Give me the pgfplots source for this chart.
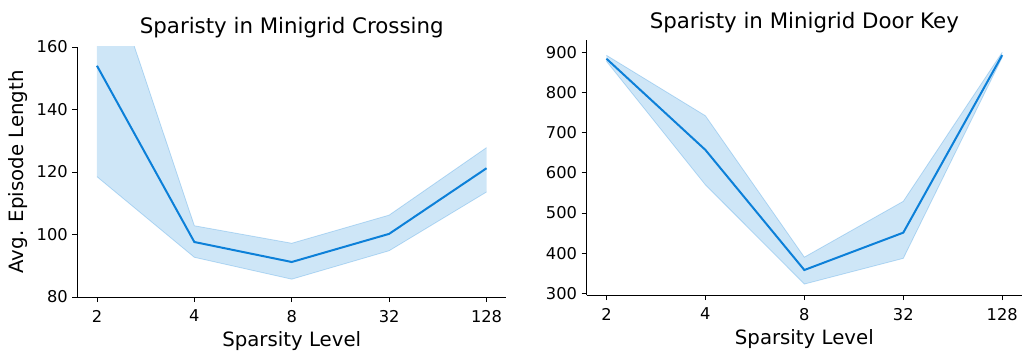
\documentclass[border=0pt]{standalone}
\usepackage{pgfplots}
\pgfplotsset{compat=1.18}
\usepgfplotslibrary{fillbetween}
\usepackage{fontspec}
\setmainfont{DejaVu Sans}
\definecolor{lc}{RGB}{12,128,216}

\pgfplotstableread{
x mean lo hi
0 154.0 118.5 196.0
1 97.6 92.7 102.8
2 91.2 85.7 97.2
3 100.2 94.8 106.2
4 121.2 113.6 127.8
}\crossing

\pgfplotstableread{
x mean lo hi
0 884 877.6 892.5
1 657 570 742
2 358 323 390
3 451 387 529
4 893 887.5 900
}\doorkey

\pgfplotsset{
  mystyle/.style={
    scale only axis,
    anchor=south west,
    axis x line*=bottom,
    axis y line*=left,
    axis line style={-, line width=0.6pt},
    tick align=outside,
    major tick length=3.75pt,
    tick style={black, line width=0.6pt},
    xmin=-0.2, xmax=4.2,
    xtick={0,1,2,3,4},
    xticklabels={2,4,8,32,128},
    tick label style={font=\fontsize{12.2}{14}\selectfont},
    xticklabel style={yshift=-2.5pt},
    /pgf/number format/assume math mode=true,
    label style={font=\fontsize{14.8}{17}\selectfont},
    title style={font=\fontsize{16}{19}\selectfont, anchor=base, at={(0.5,1)}},
    xlabel={Sparsity Level},
  }
}

\begin{document}
\begin{tikzpicture}

\begin{axis}[mystyle,
  at={(58.1pt,39.75pt)}, width=321.4pt, height=187.5pt,
  ymin=80, ymax=160, ytick={80,100,120,140,160},
  title={Sparisty in Minigrid Crossing},
  title style={yshift=4pt},
  ylabel={Avg. Episode Length},
]
\addplot[name path=hiA, draw=lc, draw opacity=0.25, line width=0.6pt] table[x=x,y=hi]{\crossing};
\addplot[name path=loA, draw=lc, draw opacity=0.25, line width=0.6pt] table[x=x,y=lo]{\crossing};
\addplot[fill=lc, fill opacity=0.2, draw=none] fill between[of=hiA and loA];
\addplot[lc, line width=1.5pt] table[x=x,y=mean]{\crossing};
\end{axis}

\begin{axis}[mystyle,
  at={(440pt,41.25pt)}, width=326.5pt, height=191.25pt,
  ymin=295.8, ymax=930.6, ytick={300,400,...,900},
  title={Sparisty in Minigrid Door Key},
  title style={yshift=3pt},
]
\addplot[name path=hiB, draw=lc, draw opacity=0.25, line width=0.6pt] table[x=x,y=hi]{\doorkey};
\addplot[name path=loB, draw=lc, draw opacity=0.25, line width=0.6pt] table[x=x,y=lo]{\doorkey};
\addplot[fill=lc, fill opacity=0.2, draw=none] fill between[of=hiB and loB];
\addplot[lc, line width=1.5pt] table[x=x,y=mean]{\doorkey};
\end{axis}

\pgfresetboundingbox
\path[use as bounding box] (0,0) rectangle (768pt,262.5pt);
\end{tikzpicture}
\end{document}
